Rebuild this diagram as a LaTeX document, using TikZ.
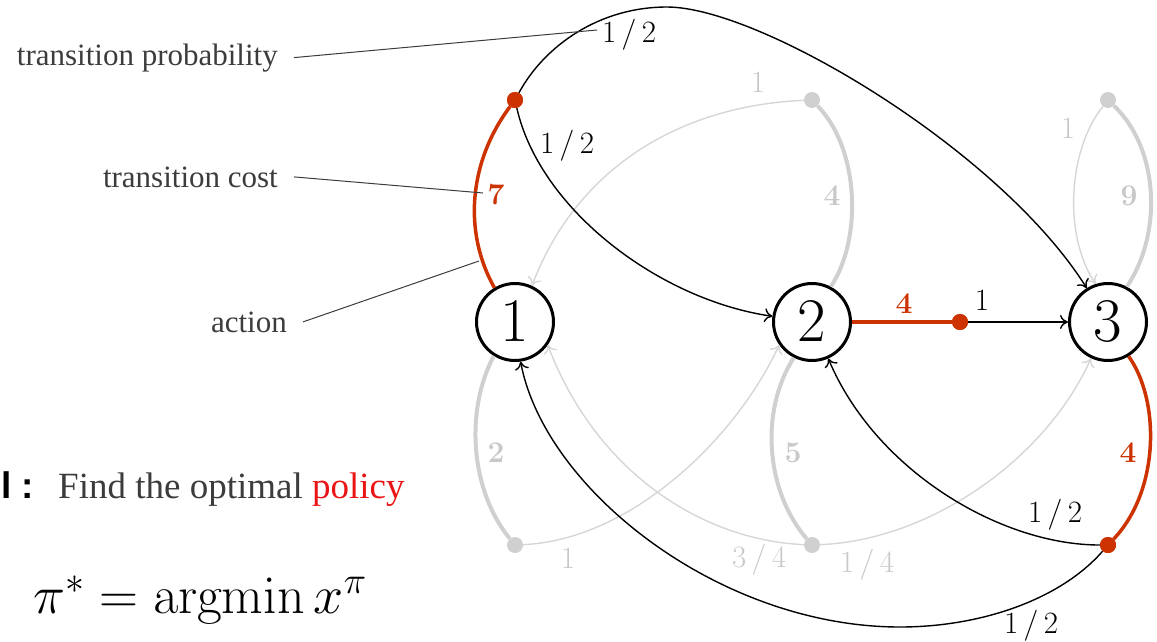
\RequirePackage{fix-cm}
\documentclass[tikz,border=0pt]{standalone}
\usepackage{amsmath}
\usepackage[no-math]{fontspec}
\setmainfont{Liberation Serif}
\newfontfamily\lsans{Liberation Sans}
\usetikzlibrary{arrows.meta}
\definecolor{actred}{RGB}{204,51,0}
\definecolor{actgray}{RGB}{208,208,208}
\definecolor{arrgray}{RGB}{214,214,214}
\definecolor{dotgray}{RGB}{208,208,208}
\definecolor{labgray}{RGB}{200,200,200}
\definecolor{txtgray}{RGB}{60,60,60}
\definecolor{polred}{RGB}{235,20,20}
\newcommand\probfrac[2]{$#1\mkern3mu/\mkern3mu#2$}
\begin{document}
\begin{tikzpicture}[x=1pt,y=1pt,
 state/.style={circle,draw=black,line width=3pt,minimum size=77pt,inner sep=0pt,font=\fontsize{62}{62}\selectfont},
 rdot/.style={circle,fill=actred,inner sep=0pt,minimum size=16pt},
 gdot/.style={circle,fill=dotgray,inner sep=0pt,minimum size=16pt},
 redact/.style={draw=actred,line width=3.5pt},
 grayact/.style={draw=actgray,line width=4pt},
 prob/.style={draw=black,line width=1.4pt,-{To[length=8pt,width=14pt]}},
 gprob/.style={draw=arrgray,line width=1.4pt,-{To[length=8pt,width=14pt]}},
 plab/.style={anchor=base,inner sep=0pt,font=\fontsize{31}{31}\selectfont},
 glab/.style={plab,text=labgray},
 clab/.style={anchor=base,inner sep=0pt,font=\fontsize{30}{30}\selectfont},
 note/.style={anchor=base east,inner xsep=16pt,inner ysep=0pt,text=txtgray,font=\fontsize{31}{31}\selectfont},
 noteline/.style={draw=txtgray,line width=1pt}
]
\useasboundingbox (0,0) rectangle (1157,-641);

% states
\node[state] (n1) at (515,-322) {$1$};
\node[state] (n2) at (812,-322) {$2$};
\node[state] (n3) at (1108,-322) {$3$};

% action dots
\node[rdot] (a1) at (515,-100) {};
\node[gdot] (b1) at (515,-545) {};
\node[gdot] (a2) at (812,-100) {};
\node[rdot] (r2) at (960,-322) {};
\node[gdot] (c2) at (812,-545) {};
\node[gdot] (a3) at (1108,-100) {};
\node[rdot] (r3) at (1108,-545) {};

% gray actions
\draw[grayact] (n1.-122) .. controls (465,-410) and (470,-490) .. (b1);
\draw[grayact] (n2.62) .. controls (862,-240) and (860,-150) .. (a2);
\draw[grayact] (n2.-117) .. controls (760,-410) and (765,-490) .. (c2);
\draw[grayact] (n3.62) .. controls (1162,-235) and (1160,-150) .. (a3);

% gray transitions
\draw[gprob] (b1) .. controls (630,-540) and (735,-440) .. (n2.215);
\draw[gprob] (a2) .. controls (690,-105) and (580,-160) .. (n1.65);
\draw[gprob] (c2) .. controls (700,-540) and (595,-470) .. (n1.-35);
\draw[gprob] (c2) .. controls (930,-540) and (1045,-460) .. (n3.245);
\draw[gprob] (a3) .. controls (1068,-150) and (1063,-235) .. (n3.108);

% red actions
\draw[redact] (n1.121) .. controls (462,-230) and (470,-160) .. (a1);
\draw[redact] (n2) -- (r2);
\draw[redact] (n3.-59) .. controls (1160,-400) and (1160,-490) .. (r3);

% black transitions
\draw[prob] (a1) .. controls (545,-45) and (600,-7) .. (667,-7) .. controls (760,-7) and (1000,-150) .. (n3);
\draw[prob] (a1) .. controls (540,-210) and (660,-300) .. (n2);
\draw[prob] (r2) -- (n3);
\draw[prob] (r3) .. controls (1000,-545) and (875,-470) .. (n2.-66);
\draw[prob] (r3) .. controls (1060,-600) and (980,-627) .. (900,-627) .. controls (720,-627) and (545,-490) .. (n1.-82);

% redraw dots on top
\node[rdot] at (a1) {};
\node[rdot] at (r2) {};
\node[rdot] at (r3) {};

% probability labels
\node[plab] (p13) at (629,-42) {\probfrac12};
\node[plab] (p12) at (567,-153) {\probfrac12};
\node[plab] (p32) at (1055,-522) {\probfrac12};
\node[plab] (p31) at (1031,-633) {\probfrac12};
\node[plab] (p23) at (982,-310) {$1$};
\node[glab] (q21) at (759,-567) {\probfrac34};
\node[glab] (q23) at (867,-572) {\probfrac14};
\node[glab] (q2a) at (758,-92) {$1$};
\node[glab] (q1b) at (568,-568) {$1$};
\node[glab] (q3a) at (1068,-138) {$1$};

% cost labels
\node[clab,text=actred] (k1) at (496,-204) {$\mathbf{7}$};
\node[clab,text=actred] (k2) at (904,-313) {$\mathbf{4}$};
\node[clab,text=actred] (k3) at (1128,-462) {$\mathbf{4}$};
\node[clab,text=labgray] (g2a) at (832,-205) {$\mathbf{4}$};
\node[clab,text=labgray] (g3a) at (1129,-205) {$\mathbf{9}$};
\node[clab,text=labgray] (g1b) at (496,-462) {$\mathbf{2}$};
\node[clab,text=labgray] (g2c) at (793,-462) {$\mathbf{5}$};

% annotations
\coordinate (tpA) at (597,-30);
\coordinate (tcA) at (483,-193);
\coordinate (acA) at (479,-261);
\node[note] (tp) at (294,-65) {transition probability};
\node[note] (tc) at (294,-187) {transition cost};
\node[note] (ac) at (303,-332) {action};
\draw[noteline] (tp.east) -- (tpA);
\draw[noteline] (tc.east) -- (tcA);
\draw[noteline] (ac.east) -- (acA);

% goal text
\node[anchor=base west,inner sep=0pt,font=\lsans\bfseries\fontsize{37}{37}\selectfont] (gl) at (1,-498) {l :};
\node[anchor=base west,inner sep=0pt,text=txtgray,font=\fontsize{37}{37}\selectfont] (find) at (58,-498) {Find the optimal \textcolor{polred}{policy}};
\node[anchor=base west,inner sep=0pt,font=\fontsize{54}{54}\selectfont] (pistar) at (33,-613) {$\pi^* = \operatorname{argmin} x^\pi$};
\end{tikzpicture}
\end{document}
